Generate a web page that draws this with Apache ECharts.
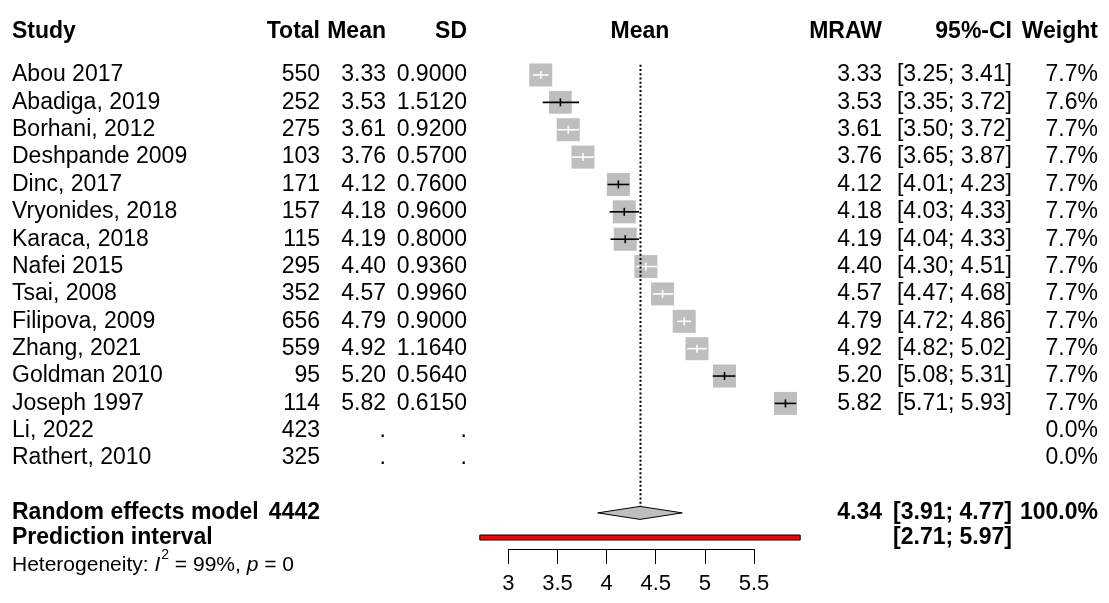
<!DOCTYPE html>
<html>
<head>
<meta charset="utf-8">
<script src="https://cdn.jsdelivr.net/npm/echarts@6/dist/echarts.min.js"></script>
<style>
  html, body { margin: 0; padding: 0; background: #fff; }
  #forest { width: 1109px; height: 603px; }
</style>
</head>
<body>
<div id="forest"></div>
<script>
  // study data
  var studies = ['Abou 2017', 'Abadiga, 2019', 'Borhani, 2012', 'Deshpande 2009', 'Dinc, 2017',
    'Vryonides, 2018', 'Karaca, 2018', 'Nafei 2015', 'Tsai, 2008', 'Filipova, 2009',
    'Zhang, 2021', 'Goldman 2010', 'Joseph 1997', 'Li, 2022', 'Rathert, 2010'];
  var totals = [550, 252, 275, 103, 171, 157, 115, 295, 352, 656, 559, 95, 114, 423, 325];
  var means = [3.33, 3.53, 3.61, 3.76, 4.12, 4.18, 4.19, 4.40, 4.57, 4.79, 4.92, 5.20, 5.82, null, null];
  var sds = [0.9000, 1.5120, 0.9200, 0.5700, 0.7600, 0.9600, 0.8000, 0.9360, 0.9960, 0.9000, 1.1640, 0.5640, 0.6150, null, null];
  var lower = [3.25, 3.35, 3.50, 3.65, 4.01, 4.03, 4.04, 4.30, 4.47, 4.72, 4.82, 5.08, 5.71, null, null];
  var upper = [3.41, 3.72, 3.72, 3.87, 4.23, 4.33, 4.33, 4.51, 4.68, 4.86, 5.02, 5.31, 5.93, null, null];
  var weights = [7.7, 7.6, 7.7, 7.7, 7.7, 7.7, 7.7, 7.7, 7.7, 7.7, 7.7, 7.7, 7.7, 0.0, 0.0];

  // random effects summary
  var pooled = [4.34, 3.91, 4.77];     // mean, lower, upper
  var prediction = [2.71, 5.97];
  var totalN = 4442;
  var hetI2 = '99%';
  var hetP = '0';

  var FONT = '"Liberation Sans", Arial, Helvetica, sans-serif';
  var FS = 23;

  function txt(x, y, s, align, bold, size) {
    return {
      type: 'text',
      style: {
        x: x, y: y, text: s, align: align, verticalAlign: 'middle',
        font: (bold ? 'bold ' : '') + (size || FS) + 'px ' + FONT,
        fill: '#000'
      }
    };
  }

  var chart = echarts.init(document.getElementById('forest'));

  var option = {
    animation: false,
    backgroundColor: '#fff',
    grid: { left: 508.3, right: 355, top: 75, bottom: 54 },
    xAxis: {
      type: 'value', min: 3, max: 5.5, interval: 0.5,
      axisLine: { onZero: false, lineStyle: { color: '#000', width: 1 } },
      axisTick: { length: 15, lineStyle: { color: '#000', width: 1 } },
      axisLabel: { color: '#000', fontSize: 22, fontFamily: FONT, margin: 24 },
      splitLine: { show: false }
    },
    yAxis: { type: 'value', min: 0, max: 17.32, inverse: true, show: false },
    series: [
      // left and right text columns
      {
        type: 'custom', clip: false, silent: true,
        data: studies.map(function (s, i) { return [3, i]; }),
        renderItem: function (params, api) {
          var i = api.value(1);
          var y = api.coord([3, i])[1];
          var ch = [
            txt(12, y, studies[i], 'left'),
            txt(320, y, String(totals[i]), 'right'),
            txt(386, y, means[i] == null ? '.' : means[i].toFixed(2), 'right'),
            txt(467, y, sds[i] == null ? '.' : sds[i].toFixed(4), 'right'),
            txt(1098, y, weights[i].toFixed(1) + '%', 'right')
          ];
          if (means[i] != null) {
            ch.push(txt(882, y, means[i].toFixed(2), 'right'));
            ch.push(txt(1012, y, '[' + lower[i].toFixed(2) + '; ' + upper[i].toFixed(2) + ']', 'right'));
          }
          return { type: 'group', children: ch };
        }
      },
      // squares with confidence intervals
      {
        type: 'custom', clip: false, silent: true,
        data: means.map(function (m, i) { return [m, i]; }).filter(function (d) { return d[0] != null; }),
        renderItem: function (params, api) {
          var i = api.value(1);
          var c = api.coord([means[i], i]);
          var lo = api.coord([lower[i], i]);
          var hi = api.coord([upper[i], i]);
          var box = 23 * weights[i] / 7.7;
          // CI width at full precision decides if the line sits inside the box
          var ciPx = 2 * 1.959964 * sds[i] / Math.sqrt(totals[i]) * api.size([1, 0])[0];
          var col = ciPx < 22 ? '#fff' : '#000';
          return {
            type: 'group',
            children: [
              { type: 'rect', shape: { x: c[0] - box / 2, y: c[1] - box / 2, width: box, height: box },
                style: { fill: '#bebebe' } },
              { type: 'line', shape: { x1: lo[0], y1: c[1], x2: hi[0], y2: c[1] },
                style: { stroke: col, lineWidth: 1.6 } },
              { type: 'line', shape: { x1: c[0], y1: c[1] - 4, x2: c[0], y2: c[1] + 4 },
                style: { stroke: col, lineWidth: 1.6 } }
            ]
          };
        }
      },
      // header, reference line, diamond, prediction interval and summary text
      {
        type: 'custom', clip: false, silent: true,
        data: [[pooled[0], 16]],
        renderItem: function (params, api) {
          var yH = api.coord([3, -1.6])[1];
          var yR = api.coord([3, 16])[1];
          var yP = api.coord([3, 16.9])[1];
          var yHet = api.coord([3, 17.8])[1];
          var m = api.coord([pooled[0], 16]);
          var l = api.coord([pooled[1], 16]);
          var u = api.coord([pooled[2], 16]);
          var pl = api.coord([prediction[0], 16.9]);
          var pu = api.coord([prediction[1], 16.9]);
          var top = api.coord([pooled[0], -0.37]);
          var dh = 6.5;
          return {
            type: 'group',
            children: [
              txt(12, yH, 'Study', 'left', true),
              txt(320, yH, 'Total', 'right', true),
              txt(386, yH, 'Mean', 'right', true),
              txt(467, yH, 'SD', 'right', true),
              txt(m[0], yH, 'Mean', 'center', true),
              txt(882, yH, 'MRAW', 'right', true),
              txt(1012, yH, '95%-CI', 'right', true),
              txt(1098, yH, 'Weight', 'right', true),
              { type: 'line', shape: { x1: Math.round(m[0]) + 0.5, y1: top[1], x2: Math.round(m[0]) + 0.5, y2: m[1] - dh },
                style: { stroke: '#000', lineWidth: 2, lineDash: [2, 2.2] } },
              { type: 'polygon', shape: { points: [[l[0], m[1]], [m[0], m[1] - dh], [u[0], m[1]], [m[0], m[1] + dh]] },
                style: { fill: '#bebebe', stroke: '#000', lineWidth: 1 } },
              { type: 'rect', shape: { x: pl[0], y: pl[1] - 2.5, width: pu[0] - pl[0], height: 5 },
                style: { fill: '#ff0000', stroke: '#000', lineWidth: 1 } },
              txt(12, yR, 'Random effects model', 'left', true),
              txt(320, yR, String(totalN), 'right', true),
              txt(882, yR, pooled[0].toFixed(2), 'right', true),
              txt(1012, yR, '[' + pooled[1].toFixed(2) + '; ' + pooled[2].toFixed(2) + ']', 'right', true),
              txt(1098, yR, '100.0%', 'right', true),
              txt(12, yP, 'Prediction interval', 'left', true),
              txt(1012, yP, '[' + prediction[0].toFixed(2) + '; ' + prediction[1].toFixed(2) + ']', 'right', true),
              {
                type: 'text',
                style: {
                  x: 12, y: yHet, align: 'left', verticalAlign: 'middle',
                  text: '{n|Heterogeneity: }{i|I}{s|2}{n| = ' + hetI2 + ', }{i|p}{n| = ' + hetP + '}',
                  rich: {
                    n: { fontSize: 21, fontFamily: FONT, color: '#000', lineHeight: 28, verticalAlign: 'bottom' },
                    i: { fontSize: 21, fontFamily: FONT, fontStyle: 'italic', color: '#000', lineHeight: 28, verticalAlign: 'bottom' },
                    s: { fontSize: 14, fontFamily: FONT, color: '#000', lineHeight: 14, verticalAlign: 'top', padding: [0, 0, 0, 1] }
                  }
                }
              }
            ]
          };
        }
      }
    ]
  };

  chart.setOption(option);
  window.addEventListener('resize', function () { chart.resize(); });
</script>
</body>
</html>
